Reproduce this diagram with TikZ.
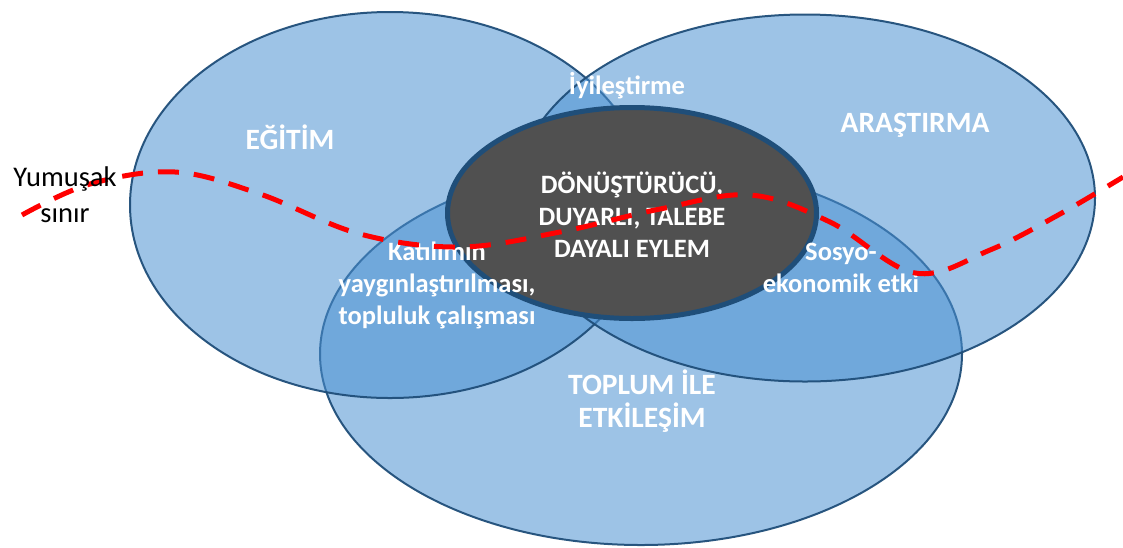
\documentclass[tikz,border=0pt]{standalone}
\usepackage{fontspec}
\setmainfont{Carlito}
\usetikzlibrary{shapes.geometric}
\definecolor{vblue}{RGB}{74,144,209}
\definecolor{vedge}{RGB}{31,78,121}
\definecolor{coredark}{RGB}{80,80,80}
\begin{document}
\begin{tikzpicture}[x=1pt,y=-1pt,
  venn/.style={ellipse, inner sep=0pt, fill=vblue, fill opacity=0.54, draw=vedge, draw opacity=0.95, line width=2pt},
  core/.style={ellipse, inner sep=0pt, fill=coredark, draw=vedge, line width=5pt},
  biglbl/.style={text=white, font=\bfseries\fontsize{29.5}{33}\selectfont, align=center, inner sep=0pt},
  lbl/.style={text=white, font=\bfseries\fontsize{26.5}{32}\selectfont, align=center, inner sep=0pt},
  corelbl/.style={text=white, font=\bfseries\fontsize{26.5}{32}\selectfont, align=center, inner sep=0pt},
  soft/.style={red, line width=5pt, dash pattern=on 21pt off 15pt},
  plain/.style={text=black, font=\fontsize{28.5}{36}\selectfont, align=center, inner sep=0pt}]
\useasboundingbox (0,0) rectangle (1123,547);
% Toplum ile etkilesim (bottom)
\node[venn, minimum width=642pt, minimum height=382pt] (toplum) at (641,354) {};
\node[biglbl] (ltoplum) at (642,401) {TOPLUM İLE\\ETKİLEŞİM};
% Egitim (left)
\node[venn, minimum width=520pt, minimum height=386pt] (egitim) at (390,205) {};
% Arastirma (right)
\node[venn, minimum width=580pt, minimum height=367pt] (arastirma) at (805,198) {};
% core
\node[core, minimum width=369pt, minimum height=211pt] (core) at (632,213) {};
\node[corelbl] (lcore) at (632,215) {DÖNÜŞTÜRÜCÜ,\\DUYARLI, TALEBE\\DAYALI EYLEM};
% labels
\node[biglbl] (legitim) at (290,137) {EĞİTİM};
\node[biglbl] (larastirma) at (915,125) {ARAŞTIRMA};
\node[lbl] (liyi) at (627,86) {İyileştirme};
\node[lbl] (lkat) at (437,285) {Katılımın\\yaygınlaştırılması,\\topluluk çalışması};
\node[lbl] (lsos) at (841,268) {Sosyo-\\ekonomik etki};
% soft boundary
\draw[soft] plot[smooth, tension=0.6] coordinates {(22,215) (90,184) (175,172) (260,194) (360,234) (460,247) (560,232) (660,209) (750,195) (830,222) (915,273) (990,250) (1060,214) (1123,177)};
\node[plain] (lsoft) at (65,195) {Yumuşak\\sınır};
\end{tikzpicture}
\end{document}
